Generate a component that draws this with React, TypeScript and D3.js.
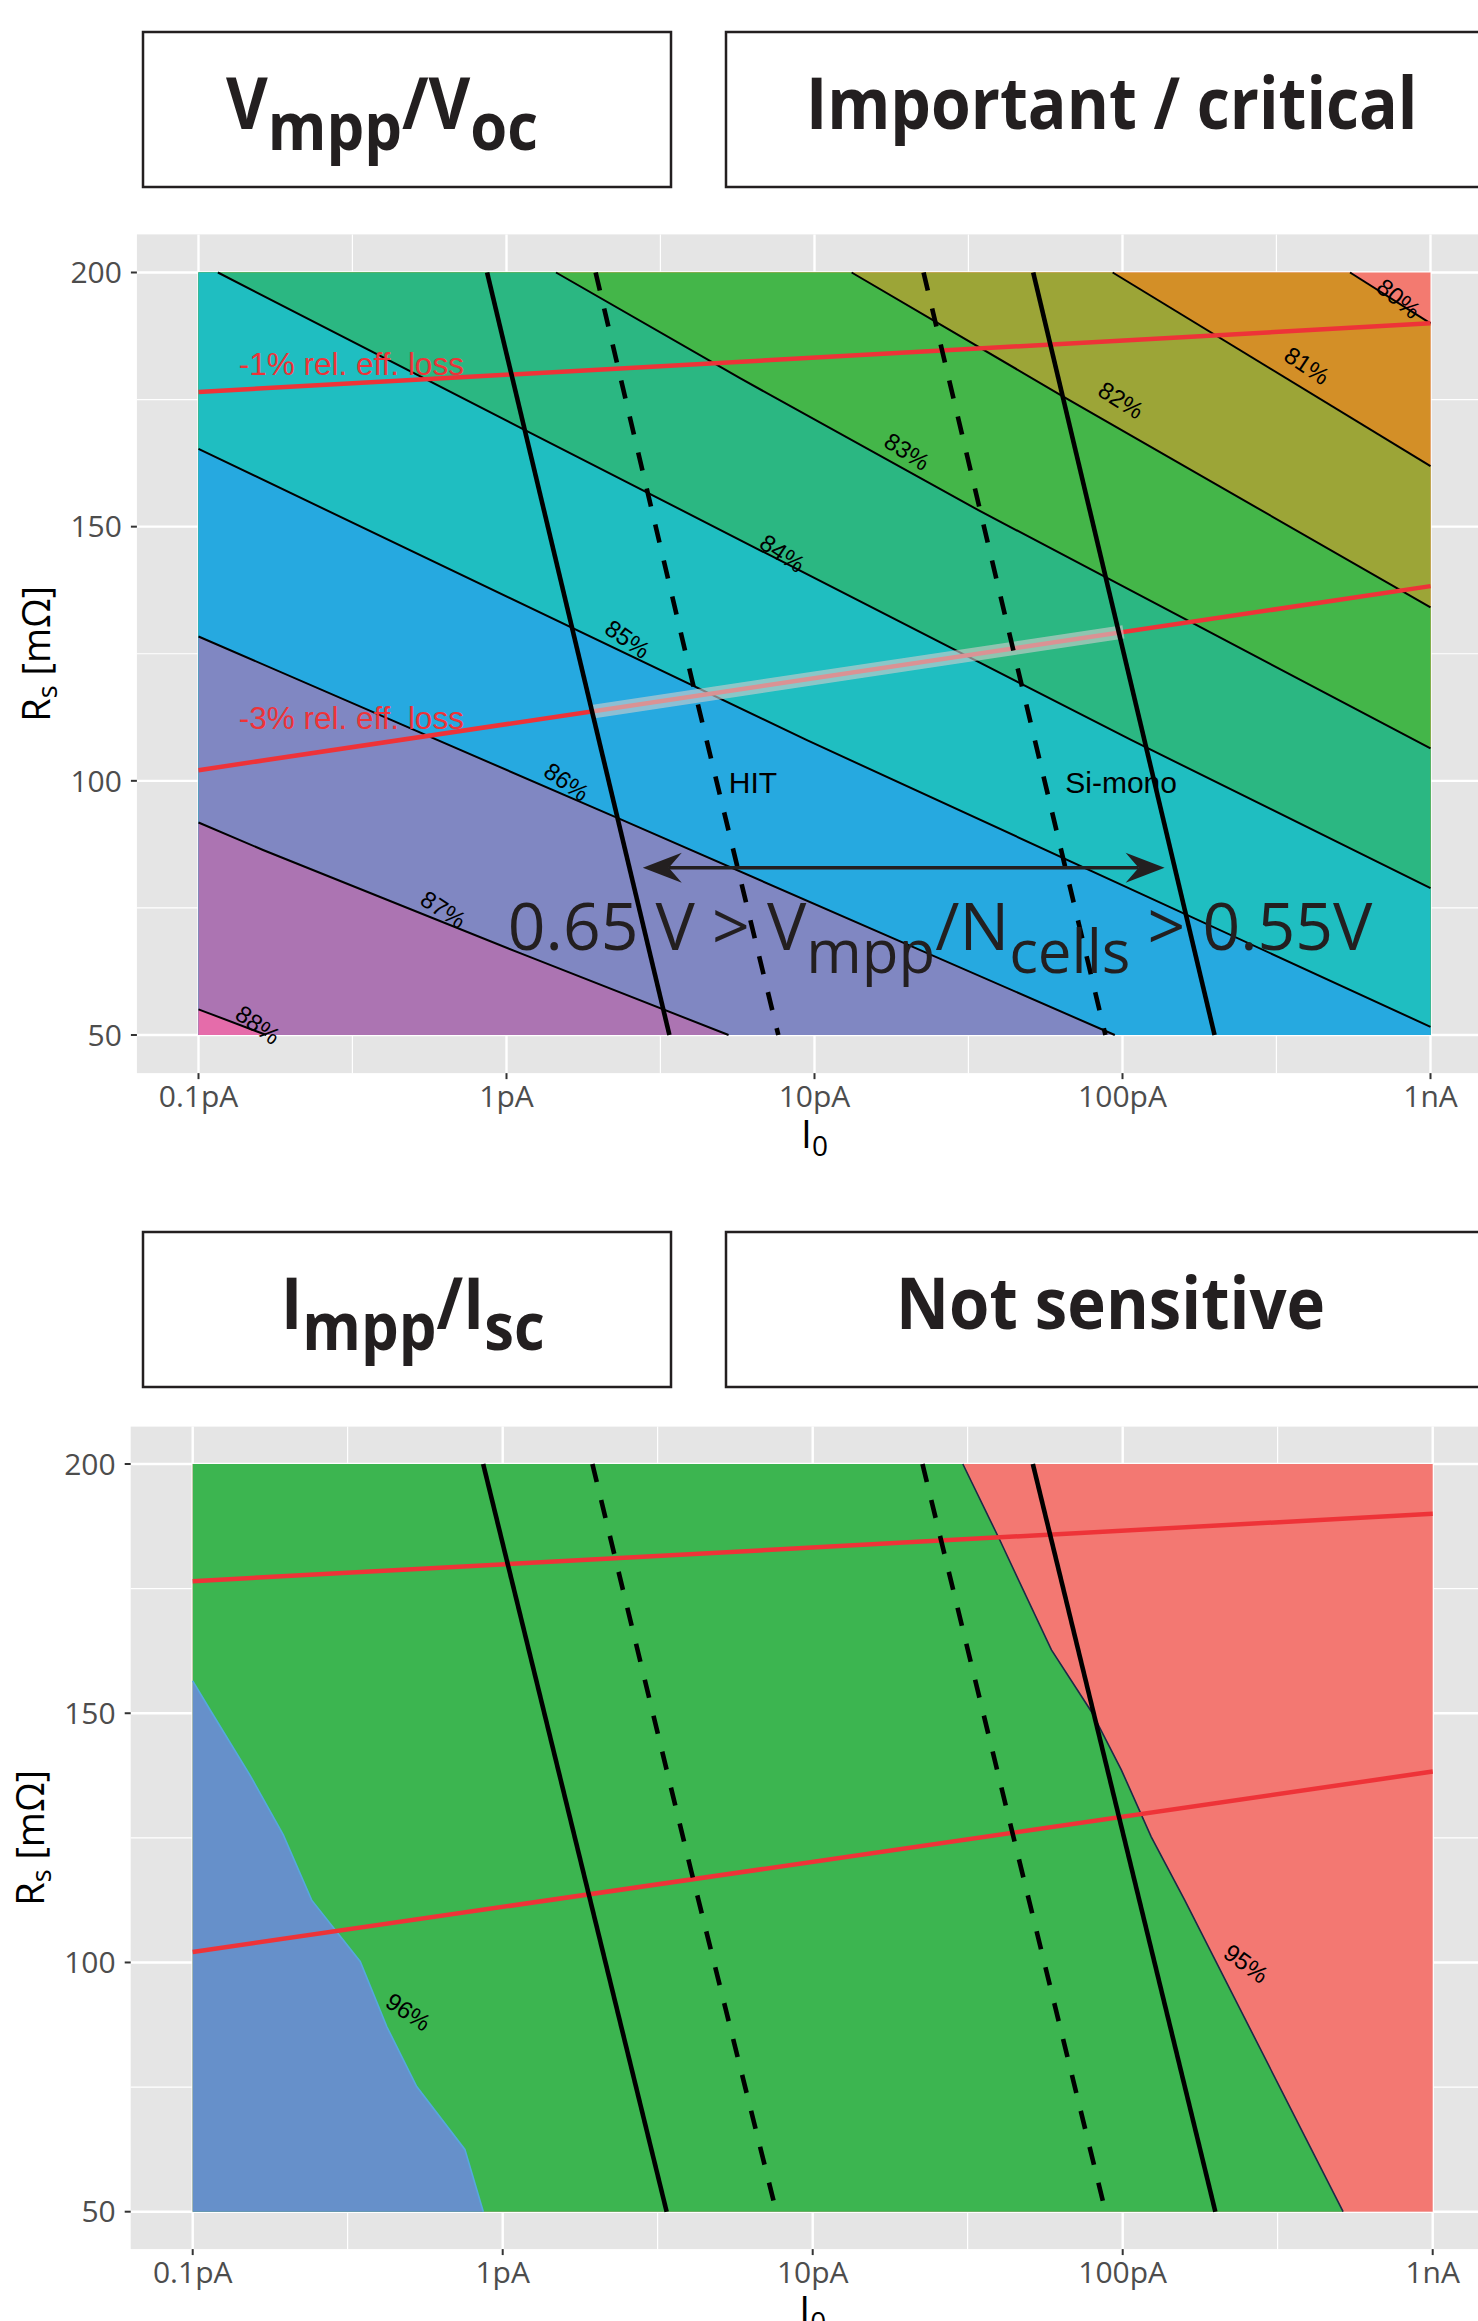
import React from 'react';
import * as d3 from 'd3';

type Pt = [number, number]; // [I0 in pA, Rs in mOhm]

const W = 1478;
const H = 2321;

// axis ticks
const xTicks = [0.1, 1, 10, 100, 1000];
const xTickLabels = ['0.1pA', '1pA', '10pA', '100pA', '1nA'];
const xMinor = [0.316, 3.16, 31.6, 316];
const yTicks = [50, 100, 150, 200];
const yMinor = [75, 125, 175];

// Vmpp/Voc panel: contour levels, band colours (below first level .. above last)
const vLevels = [80, 81, 82, 83, 84, 85, 86, 87, 88];
const vColors = ['#F37A70', '#D38F27', '#9CA537', '#44B649', '#2BB782', '#1FBEC1', '#26A9E0', '#8087C2', '#AC74B2', '#E56CAA'];
const vContours: Pt[][] = [
  [[548, 200], [1000, 190.0]],
  [[92.9, 200], [1000, 161.9]],
  [[13.2, 200], [63.8, 175.7], [1000, 134.1]],
  [[1.448, 200], [5.73, 179.2], [34.4, 153.1], [1000, 106.4]],
  [[0.1156, 200], [1.14, 169.1], [107, 108], [1000, 78.9]],
  [[0.1, 165.3], [9.45, 108], [1000, 51.6]],
  [[0.1, 128.4], [2.31, 92.6], [94.4, 50]],
  [[0.1, 91.8], [0.162, 86.4], [1.107, 66.1], [5.26, 50]],
  [[0.1, 55.05], [0.166, 50]],
];
const vLabelPos: Pt[] = [
  [789, 194.9], [397, 181.7], [98.9, 174.9], [19.97, 164.8], [7.87, 144.8],
  [2.474, 127.9], [1.568, 99.8], [0.6235, 74.7], [0.156, 52.0],
];
const vLabelAngle = [39, 34, 32, 33, 34, 35, 35, 33, 36];

// Impp/Isc panel
const iLevels = [95, 96];
const iColors = ['#F37872', '#3CB550', '#6690CA'];
const iContours: Pt[][] = [
  [[30.5, 200], [40.1, 184.8], [58.9, 162.7], [79.3, 150.3], [98.9, 138.7], [123.6, 125.2], [158.5, 112.5], [514, 50]],
  [[0.1, 156.5], [0.114, 150.6], [0.153, 137.6], [0.196, 125.6], [0.242, 112.5], [0.347, 100.2], [0.423, 87.1], [0.528, 75.1], [0.755, 62.5], [0.866, 50]],
];
const iLineColors = ['#1B2A47', '#55A8DE'];
const iLabelPos: Pt[] = [[250, 99.8], [0.496, 90.1]];
const iLabelAngle = [36, 34];

// cell technology limits (same in both panels)
const hitSolid: Pt[] = [[0.865, 200], [3.38, 50]];
const hitDashed: Pt[] = [[1.947, 200], [4.05, 118.5], [7.63, 50]];
const monoDashed: Pt[] = [[22.6, 200], [44.9, 124], [88, 50]];
const monoSolid: Pt[] = [[51.3, 200], [199, 50]];
// relative efficiency loss lines
const loss1: Pt[] = [[0.1, 176.5], [1000, 190.0]];
const loss3: Pt[] = [[0.1, 102.1], [1000, 138.3]];
const lossBand: Pt[] = [[1.897, 113.6], [100.7, 129.3]];

// annotations (top panel)
const lossLabels: { text: string; at: Pt }[] = [
  { text: '-1% rel. eff. loss', at: [0.135, 179.8] },
  { text: '-3% rel. eff. loss', at: [0.135, 110.2] },
];
const techLabels: { text: string; at: Pt }[] = [
  { text: 'HIT', at: [5.27, 97.7] },
  { text: 'Si-mono', at: [65.2, 97.7] },
];
const arrowSpan: Pt[] = [[2.77, 82.9], [137, 82.9]];
const rangeTextAt: Pt = [1.01, 66.7];

const SANS = "'Open Sans', 'DejaVu Sans', sans-serif";
const ARIAL = "'Liberation Sans', Arial, sans-serif";
const INK = '#231F20';

interface PanelProps {
  left: number; right: number; top: number; bottom: number;
  levels: number[]; colors: string[]; contours: Pt[][];
  lineColors: string[]; lineWidth: number;
  labelPos: Pt[]; labelAngle: number[];
  annotate: boolean;
}

function region(c: Pt[]): Pt[] {
  const s = c[0];
  const e = c[c.length - 1];
  const pts: Pt[] = [...c];
  if (e[1] > 50) pts.push([1000, 50]);
  pts.push([0.1, 50]);
  if (s[0] > 0.1) pts.push([0.1, 200]);
  return pts;
}

function Panel(p: PanelProps) {
  const x = d3.scaleLog().domain([0.1, 1000]).range([p.left, p.right]);
  const y = d3.scaleLinear().domain([50, 200]).range([p.bottom, p.top]);
  const line = d3.line<Pt>().x(d => x(d[0])).y(d => y(d[1]));
  const ex = 0.05 * (p.right - p.left);
  const ey = 0.05 * (p.bottom - p.top);
  const pl = p.left - ex, pr = p.right + ex, pt = p.top - ey, pb = p.bottom + ey;

  const arrowHead = (tipX: number, tipY: number, dir: number) => {
    const pts: [number, number][] = [
      [tipX, tipY], [tipX + dir * 39, tipY - 15], [tipX + dir * 26, tipY], [tipX + dir * 39, tipY + 15],
    ];
    return 'M' + pts.map(q => q.join(',')).join('L') + 'Z';
  };

  return (
    <g>
      <rect x={pl} y={pt} width={pr - pl} height={pb - pt} fill="#E5E5E5" />
      {xMinor.map(v => (
        <line key={'xm' + v} x1={x(v)} x2={x(v)} y1={pt} y2={pb} stroke="#fff" strokeWidth={1.2} />
      ))}
      {yMinor.map(v => (
        <line key={'ym' + v} x1={pl} x2={pr} y1={y(v)} y2={y(v)} stroke="#fff" strokeWidth={1.2} />
      ))}
      {xTicks.map(v => (
        <line key={'xg' + v} x1={x(v)} x2={x(v)} y1={pt} y2={pb} stroke="#fff" strokeWidth={2.4} />
      ))}
      {yTicks.map(v => (
        <line key={'yg' + v} x1={pl} x2={pr} y1={y(v)} y2={y(v)} stroke="#fff" strokeWidth={2.4} />
      ))}

      {/* filled contour bands */}
      <rect x={p.left} y={p.top} width={p.right - p.left} height={p.bottom - p.top} fill={p.colors[0]} />
      {p.contours.map((c, i) => (
        <path key={'f' + i} d={line(region(c)) + 'Z'} fill={p.colors[i + 1]} />
      ))}
      {p.contours.map((c, i) => (
        <path key={'c' + i} d={line(c) || ''} fill="none" stroke={p.lineColors[i] || '#000'} strokeWidth={p.lineWidth} />
      ))}

      {/* loss lines */}
      {[loss1, loss3].map((l, i) => (
        <path key={'r' + i} d={line(l) || ''} fill="none" stroke="#EE3338" strokeWidth={4.5} />
      ))}
      {p.annotate && (
        <path d={line(lossBand) || ''} fill="none" stroke="rgba(205,205,205,0.62)" strokeWidth={13.5} />
      )}

      {/* technology limits */}
      {[hitSolid, monoSolid].map((l, i) => (
        <path key={'s' + i} d={line(l) || ''} fill="none" stroke="#000" strokeWidth={4.6} />
      ))}
      {[hitDashed, monoDashed].map((l, i) => (
        <path key={'d' + i} d={line(l) || ''} fill="none" stroke="#000" strokeWidth={4.6} strokeDasharray="18.5 18.5" />
      ))}

      {/* contour labels */}
      {p.labelPos.map((q, i) => (
        <text key={'l' + i} transform={`translate(${x(q[0])},${y(q[1])}) rotate(${p.labelAngle[i]})`}
          textAnchor="middle" dominantBaseline="central" fontFamily={ARIAL} fontSize={24} fill="#000">
          {p.levels[i] + '%'}
        </text>
      ))}

      {p.annotate && (
        <g>
          {lossLabels.map(l => (
            <text key={l.text} x={x(l.at[0])} y={y(l.at[1])} fontFamily={ARIAL} fontSize={31.5} fill="#EE3338">{l.text}</text>
          ))}
          {techLabels.map(l => (
            <text key={l.text} x={x(l.at[0])} y={y(l.at[1])} fontFamily={ARIAL} fontSize={30} fill="#000">{l.text}</text>
          ))}
          <line x1={x(arrowSpan[0][0]) + 26} x2={x(arrowSpan[1][0]) - 26} y1={y(arrowSpan[0][1])} y2={y(arrowSpan[1][1])}
            stroke={INK} strokeWidth={3.6} />
          <path d={arrowHead(x(arrowSpan[0][0]), y(arrowSpan[0][1]), 1)} fill={INK} />
          <path d={arrowHead(x(arrowSpan[1][0]), y(arrowSpan[1][1]), -1)} fill={INK} />
          <text x={x(rangeTextAt[0])} y={y(rangeTextAt[1])} fontFamily={SANS} fontSize={66} fill={INK}>
            {'0.65 V > V'}
            <tspan fontSize={60} dy={23}>mpp</tspan>
            <tspan dy={-23}>/N</tspan>
            <tspan fontSize={60} dy={23}>cells</tspan>
            <tspan dy={-23}>{' > 0.55V'}</tspan>
          </text>
        </g>
      )}

      {/* axes */}
      {xTicks.map((v, i) => (
        <g key={'xt' + v}>
          <line x1={x(v)} x2={x(v)} y1={pb} y2={pb + 6} stroke="#333" strokeWidth={2} />
          <text x={x(v)} y={pb + 33.6} textAnchor="middle" fontFamily={SANS} fontSize={30} fill="#4D4D4D">{xTickLabels[i]}</text>
        </g>
      ))}
      {yTicks.map(v => (
        <g key={'yt' + v}>
          <line x1={pl - 6} x2={pl} y1={y(v)} y2={y(v)} stroke="#333" strokeWidth={2} />
          <text x={pl - 15} y={y(v) + 10.7} textAnchor="end" fontFamily={SANS} fontSize={30} fill="#4D4D4D">{v}</text>
        </g>
      ))}
      <text x={(p.left + p.right) / 2} y={pb + 75} textAnchor="middle" fontFamily={SANS} fontSize={39} fill="#000">
        I<tspan fontSize={28} dy={8}>0</tspan>
      </text>
      <text transform={`translate(${pl - 87},${(p.top + p.bottom) / 2}) rotate(-90)`} textAnchor="middle"
        fontFamily={SANS} fontSize={38} fill="#000">
        R<tspan fontSize={27} dy={7}>s</tspan><tspan dy={-7}>{' [mΩ]'}</tspan>
      </text>
    </g>
  );
}

function TitleBoxes({ top, left, right }: { top: number; left: React.ReactNode; right: React.ReactNode }) {
  return (
    <g>
      <rect x={143} y={top} width={528} height={155} fill="#fff" stroke={INK} strokeWidth={2.5} />
      <rect x={726} y={top} width={800} height={155} fill="#fff" stroke={INK} strokeWidth={2.5} />
      {left}
      {right}
    </g>
  );
}

export default function App() {
  return (
    <svg width={W} height={H} style={{ position: 'absolute', left: 0, top: 0, background: '#fff' }}>
      <TitleBoxes
        top={32}
        left={
          <g transform="translate(226,129) scale(0.905,1)">
            <text fontFamily={SANS} fontWeight={700} fontSize={71} fill={INK}>
              V<tspan fontSize={66} dy={21}>mpp</tspan><tspan dy={-21}>/V</tspan><tspan fontSize={66} dy={21}>oc</tspan>
            </text>
          </g>
        }
        right={
          <g transform="translate(806,129) scale(0.905,1)">
            <text fontFamily={SANS} fontWeight={700} fontSize={71} fill={INK}>Important / critical</text>
          </g>
        }
      />
      <Panel left={198.5} right={1430.5} top={272.5} bottom={1035}
        levels={vLevels} colors={vColors} contours={vContours}
        lineColors={vContours.map(() => '#000')} lineWidth={2}
        labelPos={vLabelPos} labelAngle={vLabelAngle} annotate={true} />

      <TitleBoxes
        top={1232}
        left={
          <g transform="translate(281,1329) scale(0.905,1)">
            <text fontFamily={SANS} fontWeight={700} fontSize={71} fill={INK}>
              I<tspan fontSize={66} dy={21}>mpp</tspan><tspan dy={-21}>/I</tspan><tspan fontSize={66} dy={21}>sc</tspan>
            </text>
          </g>
        }
        right={
          <g transform="translate(896,1329) scale(0.92,1)">
            <text fontFamily={SANS} fontWeight={700} fontSize={71} fill={INK}>Not sensitive</text>
          </g>
        }
      />
      <Panel left={192.7} right={1432.7} top={1464} bottom={2211.7}
        levels={iLevels} colors={iColors} contours={iContours}
        lineColors={iLineColors} lineWidth={1.6}
        labelPos={iLabelPos} labelAngle={iLabelAngle} annotate={false} />
    </svg>
  );
}
